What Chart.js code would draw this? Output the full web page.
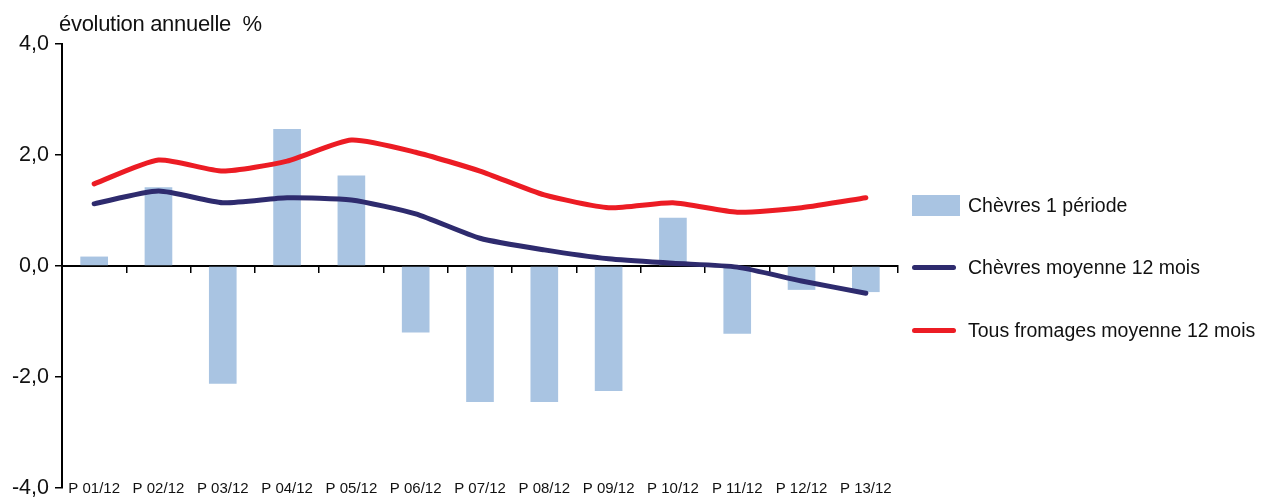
<!DOCTYPE html>
<html>
<head>
<meta charset="utf-8">
<script src="https://cdn.jsdelivr.net/npm/chart.js@4.4.1/dist/chart.umd.min.js"></script>
<style>
  body { margin: 0; background: #fff; font-family: "Liberation Sans", Arial, sans-serif; color: #111; }
  #wrap { position: relative; width: 1264px; height: 497px; }
  #title { position: absolute; left: 59px; top: 11px; font-size: 22px; letter-spacing: -0.3px; }
  #legend { position: absolute; left: 912px; top: 0; font-size: 19.5px; }
  .item { position: absolute; left: 0; white-space: nowrap; height: 24px; line-height: 24px; }
  .sym { position: absolute; left: 0; width: 48px; }
  .txt { position: absolute; left: 56px; }
</style>
</head>
<body>
<div id="wrap">
  <canvas id="chart"></canvas>
  <div id="title">évolution annuelle &nbsp;%</div>
  <div id="legend"></div>
</div>
<script>
const categories = ['P 01/12', 'P 02/12', 'P 03/12', 'P 04/12', 'P 05/12', 'P 06/12', 'P 07/12',
                    'P 08/12', 'P 09/12', 'P 10/12', 'P 11/12', 'P 12/12', 'P 13/12'];
const chevres1Periode = [0.17, 1.42, -2.12, 2.47, 1.63, -1.2, -2.45, -2.45, -2.25, 0.87, -1.22, -0.43, -0.47];
const chevresMoy12 = [1.12, 1.35, 1.14, 1.23, 1.19, 0.94, 0.5, 0.29, 0.13, 0.05, -0.02, -0.27, -0.49];
const tousFromagesMoy12 = [1.48, 1.91, 1.71, 1.89, 2.27, 2.05, 1.71, 1.28, 1.05, 1.14, 0.97, 1.05, 1.23];
const yTicks = [-4, -2, 0, 2, 4];

const seriesNames = ['Chèvres 1 période', 'Chèvres moyenne 12 mois', 'Tous fromages moyenne 12 mois'];
const colors = ['#A9C4E2', '#2E2B6E', '#EC1C24'];

// legend (html, to the right of the plot)
const legendTop = [195, 257, 320];
const legend = document.getElementById('legend');
seriesNames.forEach((name, i) => {
    const item = document.createElement('div');
    item.className = 'item';
    item.style.top = (legendTop[i] - 2) + 'px';
    const sym = document.createElement('div');
    sym.className = 'sym';
    if (i === 0) {
        sym.style.top = '2px'; sym.style.height = '21px'; sym.style.background = colors[i];
    } else {
        sym.style.top = '10px'; sym.style.height = '5px'; sym.style.width = '44px';
        sym.style.borderRadius = '3px'; sym.style.background = colors[i];
    }
    const txt = document.createElement('span');
    txt.className = 'txt';
    txt.textContent = name;
    item.appendChild(sym);
    item.appendChild(txt);
    legend.appendChild(item);
});

const ctx = document.getElementById('chart').getContext('2d');
const chart = new Chart(ctx, {
    data: {
        labels: categories,
        datasets: [{
            type: 'bar',
            label: seriesNames[0],
            data: chevres1Periode,
            backgroundColor: colors[0],
            borderWidth: 0,
            categoryPercentage: 1,
            barPercentage: 0.43,
            order: 2
        }, {
            type: 'line',
            label: seriesNames[1],
            data: chevresMoy12,
            borderColor: colors[1],
            borderWidth: 5,
            borderCapStyle: 'round',
            borderJoinStyle: 'round',
            pointRadius: 0,
            tension: 0.2,
            order: 1
        }, {
            type: 'line',
            label: seriesNames[2],
            data: tousFromagesMoy12,
            borderColor: colors[2],
            borderWidth: 5,
            borderCapStyle: 'round',
            borderJoinStyle: 'round',
            pointRadius: 0,
            tension: 0.2,
            order: 1
        }]
    },
    options: {
        responsive: true,
        maintainAspectRatio: false,
        animation: false,
        layout: { padding: { top: 44, bottom: 9, left: 0, right: 366 } },
        scales: {
            x: {
                position: { y: 0 },
                // labels sit at the bottom, far below the zero line; drop the side padding that adds
                afterFit: s => { s.paddingLeft = 0; s.paddingRight = 0; },
                grid: { offset: true, drawOnChartArea: false, drawTicks: true, tickLength: 6, color: '#000', lineWidth: 1.5 },
                border: { color: '#000', width: 2 },
                ticks: {
                    autoSkip: false, maxRotation: 0, padding: 208, color: '#111',
                    font: { family: '"Liberation Sans", Arial, sans-serif', size: 15 }
                }
            },
            y: {
                min: yTicks[0],
                max: yTicks[yTicks.length - 1],
                afterBuildTicks: s => { s.ticks = yTicks.map(v => ({ value: v })); },
                afterFit: s => { s.width = 62; s.paddingTop = 0; s.paddingBottom = 0; },
                grid: { drawOnChartArea: false, drawTicks: true, tickLength: 7, color: '#000', lineWidth: 1.5 },
                border: { color: '#000', width: 2 },
                ticks: {
                    padding: 6, color: '#111',
                    font: { family: '"Liberation Sans", Arial, sans-serif', size: 21.5 },
                    callback: v => v.toFixed(1).replace('.', ',')
                }
            }
        },
        plugins: {
            legend: { display: false },
            tooltip: { enabled: false }
        }
    }
});
</script>
</body>
</html>
